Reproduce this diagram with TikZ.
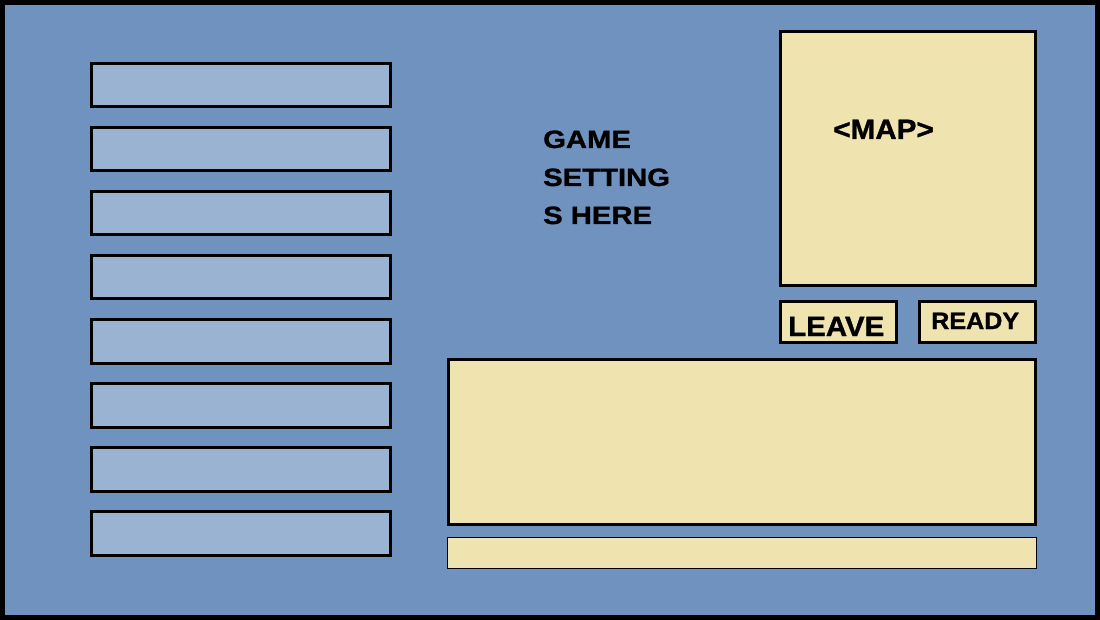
\documentclass[tikz,border=0pt]{standalone}
\usepackage{fontspec}
\setmainfont{Liberation Sans}
\newfontfamily\wideA[FakeStretch=1.17,FakeBold=1.2]{Liberation Sans}
\newfontfamily\wideB[FakeStretch=1.06,FakeBold=1.2]{Liberation Sans}
\definecolor{bgblue}{RGB}{112,146,190}
\definecolor{slotblue}{RGB}{155,179,210}
\definecolor{cream}{RGB}{239,228,176}
\tikzset{
  slotbox/.style={draw=black, line width=3pt, fill=slotblue, inner sep=0pt,
    minimum width=299pt, minimum height=43.5pt},
  panelbox/.style={draw=black, line width=3pt, fill=cream, inner sep=0pt},
  inputbox/.style={draw=black, line width=1pt, fill=cream, inner sep=0pt},
  uitext/.style={inner sep=0pt, anchor=base west, text=black, font=\bfseries}
}
\begin{document}
\begin{tikzpicture}[x=1pt, y=-1pt]
  \useasboundingbox (0,0) rectangle (1100,620);
  \node[draw=black, line width=5pt, fill=bgblue, inner sep=0pt,
        minimum width=1095pt, minimum height=615pt] (frame) at (550,310) {};
  % player slots
  \foreach \i in {0,...,7} {
    \node[slotbox] (slot\i) at (241, 85.25 + 64*\i) {};
  }
  % map
  \node[panelbox, minimum width=255pt, minimum height=254pt] (map) at (908,158.5) {};
  \node[uitext, font=\wideB\bfseries\fontsize{28}{30}\selectfont] (maptext) at (833,139) {<MAP>};
  % buttons
  \node[panelbox, minimum width=115.7pt, minimum height=41pt] (leave) at (838.3,322) {};
  \node[panelbox, minimum width=115.7pt, minimum height=41pt] (ready) at (977.3,322) {};
  \node[uitext, font=\wideB\bfseries\fontsize{27.8}{30}\selectfont] (leavetext) at (788,336) {LEAVE};
  \node[uitext, font=\wideB\bfseries\fontsize{23.7}{26}\selectfont] (readytext) at (931,329) {READY};
  % chat
  \node[panelbox, minimum width=586.7pt, minimum height=164.4pt] (chat) at (741.8,442) {};
  \node[inputbox, minimum width=588.7pt, minimum height=31.5pt] (input) at (741.8,553.2) {};
  % settings text (base anchor = baseline of last line)
  \node[uitext, align=left, font=\wideA\bfseries\fontsize{25}{38}\selectfont] (settings) at (543,224)
    {GAME\\SETTING\\S HERE};
\end{tikzpicture}
\end{document}
